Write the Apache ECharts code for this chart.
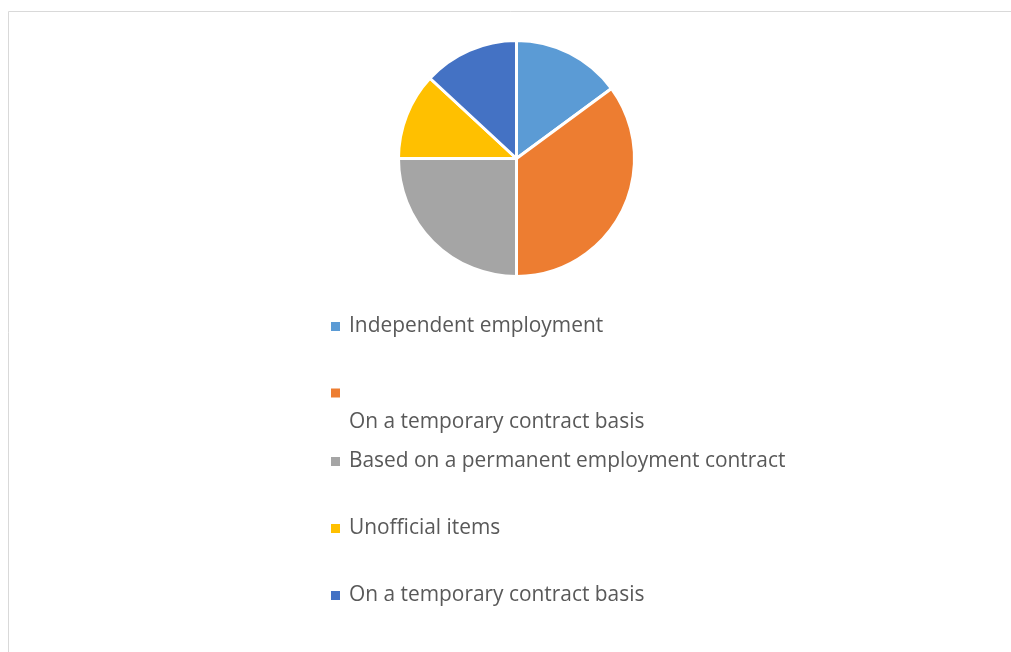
<!DOCTYPE html>
<html>
<head>
<meta charset="utf-8">
<script src="https://cdn.jsdelivr.net/npm/echarts@6/dist/echarts.min.js"></script>
<style>html,body{margin:0;padding:0;background:#fff;}#c{width:1011px;height:652px;}</style>
</head>
<body>
<div id="c"></div>
<script>
const categories = [
  "Independent employment",
  "\nOn a temporary contract basis",
  "Based on a permanent employment contract",
  "Unofficial items",
  "On a temporary contract basis"
];
const values = [14.9, 35.1, 25.0, 11.9, 13.1];
const colors = ["#5B9BD5", "#ED7D31", "#A5A5A5", "#FFC000", "#4472C4"];

const legendIconY = [326, 393, 461, 528, 595];
const fontFamily = "'Open Sans', sans-serif";

const legends = categories.map((name, i) => {
  const multi = name.indexOf("\n") === 0;
  const lh = multi ? 29 : 20;
  const lines = multi ? 3 : 1;
  return {
    orient: 'vertical',
    left: 331,
    top: legendIconY[i] - (lines * lh) / 2,
    padding: 0,
    itemWidth: 9,
    itemHeight: 9,
    icon: 'rect',
    selectedMode: false,
    itemStyle: {borderWidth: 0},
    data: [name],
    formatter: multi ? (n => '\n' + n) : (n => n),
    textStyle: {
      color: '#595959',
      fontSize: 20.9,
      fontFamily: fontFamily,
      lineHeight: lh,
      padding: [0, 0, 0, 4]
    }
  };
});

const chart = echarts.init(document.getElementById('c'), null, {renderer: 'canvas'});
chart.setOption({
  animation: false,
  color: colors,
  graphic: [{
    type: 'rect',
    shape: {x: 8.5, y: 11.5, width: 1100, height: 800},
    style: {fill: 'none', stroke: '#D9D9D9', lineWidth: 1},
    silent: true
  }],
  legend: legends,
  series: [{
    type: 'pie',
    center: [516.5, 158.5],
    radius: 118,
    startAngle: 90,
    clockwise: true,
    label: {show: false},
    labelLine: {show: false},
    itemStyle: {borderColor: '#fff', borderWidth: 3},
    emphasis: {disabled: true},
    data: categories.map((n, i) => ({name: n, value: values[i]}))
  }]
});
</script>
</body>
</html>
